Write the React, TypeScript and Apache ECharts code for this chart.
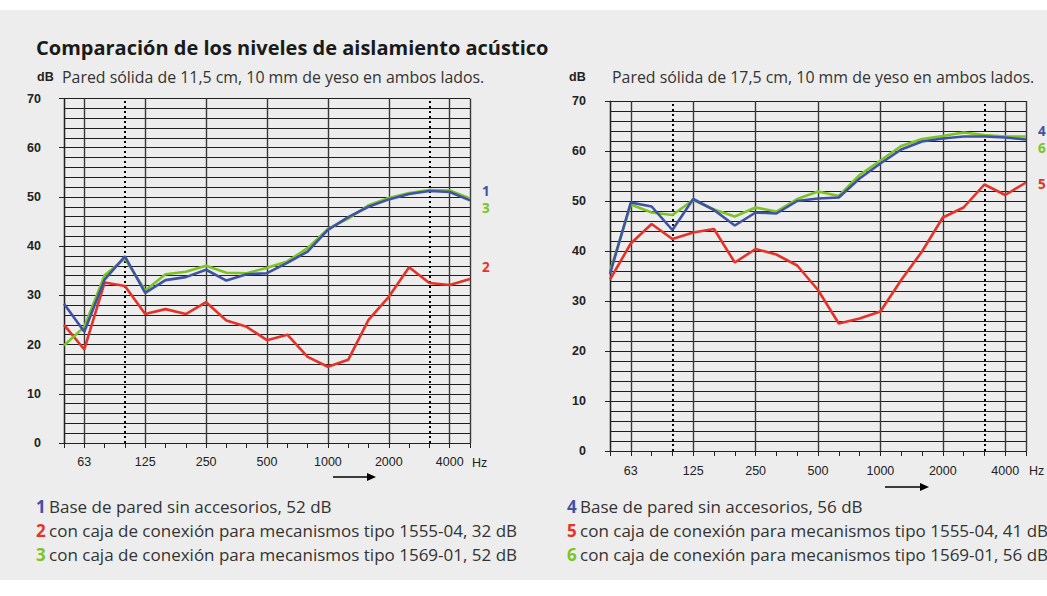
import React, { useEffect, useRef } from "react";
import * as echarts from "echarts";

const FREQS = ["50","63","80","100","125","160","200","250","315","400","500","630","800","1000","1250","1600","2000","2500","3150","4000","5000"];
const OCTAVES = ["63","125","250","500","1000","2000","4000"];
const SPLIT_AT = ["50","63","125","250","500","1000","2000","4000","5000"];
const DOTTED_AT = ["100","3150"];

// Left chart: 11,5 cm wall
const left1 = [28.3,22.6,33.2,37.9,30.5,33.1,33.7,35.2,33.0,34.3,34.5,36.6,38.9,43.3,45.9,48.0,49.5,50.6,51.2,51.0,49.3];
const left2 = [24.0,19.0,32.6,31.9,26.2,27.2,26.2,28.6,24.9,23.6,20.9,22.0,17.5,15.5,16.9,25.0,29.7,35.7,32.5,32.1,33.3];
const left3 = [19.8,23.6,34.1,37.5,31.0,34.3,34.8,36.0,34.6,34.5,35.6,36.9,39.6,43.5,45.6,48.3,49.8,50.8,51.4,51.3,49.7];

// Right chart: 17,5 cm wall
const right4 = [35.4,49.7,48.9,44.2,50.4,48.2,45.1,47.7,47.5,50.0,50.5,50.7,54.5,57.5,60.3,61.9,62.5,62.9,62.9,62.7,62.3];
const right5 = [34.3,41.5,45.4,42.4,43.7,44.4,37.7,40.4,39.3,37.1,32.2,25.5,26.5,27.9,34.2,39.9,46.7,48.7,53.3,51.2,53.7];
const right6 = [35.9,49.3,47.7,47.2,50.2,48.3,46.9,48.7,47.9,50.4,51.9,51.0,55.2,58.1,61.0,62.4,63.0,63.7,63.2,62.9,62.9];

const TITLE = "Comparación de los niveles de aislamiento acústico";
const SUB_LEFT = "Pared sólida de 11,5 cm, 10 mm de yeso en ambos lados.";
const SUB_RIGHT = "Pared sólida de 17,5 cm, 10 mm de yeso en ambos lados.";
const LEG_LEFT = [
  ["1", "Base de pared sin accesorios, 52 dB"],
  ["2", "con caja de conexión para mecanismos tipo 1555-04, 32 dB"],
  ["3", "con caja de conexión para mecanismos tipo 1569-01, 52 dB"],
];
const LEG_RIGHT = [
  ["4", "Base de pared sin accesorios, 56 dB"],
  ["5", "con caja de conexión para mecanismos tipo 1555-04, 41 dB"],
  ["6", "con caja de conexión para mecanismos tipo 1569-01, 56 dB"],
];

const BLUE = "#3f52a6";
const RED = "#e5332a";
const GREEN = "#7cc424";
const SANS = "'Open Sans', 'Noto Sans', sans-serif";
const NUMF = "'Liberation Sans', Arial, sans-serif";

export default function App() {
  const ref = useRef<HTMLDivElement>(null);
  useEffect(() => {
    if (!ref.current) return;
    const chart = echarts.init(ref.current, null, { renderer: "svg" });

    const xAxisFor = (gi: number, margin: number) => ({
      type: "category",
      gridIndex: gi,
      data: FREQS,
      boundaryGap: false,
      axisLine: { show: true, lineStyle: { color: "#222", width: 1.2 } },
      axisTick: { show: true, interval: 0, length: 5, inside: false, lineStyle: { color: "#222", width: 1 } },
      axisLabel: {
        interval: (i: number, v: string) => OCTAVES.includes(v),
        margin,
        color: "#222",
        fontFamily: NUMF,
        fontSize: 12.5,
      },
      splitLine: {
        show: true,
        interval: (i: number, v: string) => SPLIT_AT.includes(v),
        lineStyle: { color: "#3a3a3a", width: 1.4 },
      },
    });
    const yAxisFor = (gi: number, margin: number) => ({
      type: "value",
      gridIndex: gi,
      min: 0,
      max: 70,
      interval: 10,
      axisLine: { show: true, lineStyle: { color: "#222", width: 1.2 } },
      axisTick: { show: true, length: 5, inside: false, lineStyle: { color: "#222" } },
      axisLabel: { margin, color: "#222", fontWeight: "bold", fontFamily: NUMF, fontSize: 12.5 },
      splitLine: { show: true, lineStyle: { color: "#1e1e1e", width: 1 } },
      minorTick: { show: false, splitNumber: 5 },
      minorSplitLine: { show: true, lineStyle: { color: "#1e1e1e", width: 1 } },
    });

    const lineSeries = (name: string, data: number[], color: string, gi: number, off: number[], markDotted = false) => ({
      type: "line",
      name,
      xAxisIndex: gi,
      yAxisIndex: gi,
      data,
      symbol: "none",
      lineStyle: { color, width: 2.6 },
      itemStyle: { color },
      z: 5,
      endLabel: {
        show: true,
        formatter: name,
        color,
        fontFamily: SANS,
        fontWeight: "bold",
        fontSize: 13.5,
        lineHeight: 14,
        offset: off,
      },
      markLine: markDotted
        ? {
            silent: true,
            symbol: "none",
            label: { show: false },
            lineStyle: { color: "#000", type: [2, 3], width: 2 },
            data: DOTTED_AT.map((f) => ({ xAxis: f })),
            z: 3,
          }
        : undefined,
    });

    const legendText = (x: number, y: number, num: string, txt: string, color: string) => ({
      type: "text",
      x,
      y,
      style: {
        text: `{n|${num}} {t|${txt}}`,
        rich: {
          n: { fill: color, fontWeight: "bold", fontSize: 17, fontFamily: SANS },
          t: { fill: "#333", fontSize: 17, fontFamily: SANS },
        },
        verticalAlign: "middle",
      },
    });

    const arrow = (x1: number, x2: number, y: number) => [
      { type: "line", shape: { x1, y1: y, x2: x2 - 8, y2: y }, style: { stroke: "#000", lineWidth: 1.3 } },
      { type: "polygon", shape: { points: [[x2 - 9, y - 4], [x2, y], [x2 - 9, y + 4]] }, style: { fill: "#000" } },
    ];

    chart.setOption({
      animation: false,
      grid: [
        { left: 64, top: 98.5, width: 406, height: 344.5 },
        { left: 610, top: 101, width: 416, height: 350 },
      ],
      xAxis: [xAxisFor(0, 12), xAxisFor(1, 13)],
      yAxis: [yAxisFor(0, 23), yAxisFor(1, 24)],
      series: [
        lineSeries("2", left2, RED, 0, [4, -12], true),
        lineSeries("3", left3, GREEN, 0, [4, 10]),
        lineSeries("1", left1, BLUE, 0, [4, -9]),
        lineSeries("5", right5, RED, 1, [4, 1], true),
        lineSeries("6", right6, GREEN, 1, [4, 11]),
        lineSeries("4", right4, BLUE, 1, [4, -9]),
      ],
      graphic: [
        { type: "text", x: 36, y: 47, style: { text: TITLE, fontFamily: SANS, fontWeight: "bold", fontSize: 20, fill: "#1a1a1a", verticalAlign: "middle" } },
        { type: "text", x: 37, y: 77, style: { text: "dB", fontFamily: NUMF, fontWeight: "bold", fontSize: 12.5, fill: "#222", verticalAlign: "middle" } },
        { type: "text", x: 62, y: 77, style: { text: SUB_LEFT, fontFamily: SANS, fontSize: 15.9, fill: "#333", verticalAlign: "middle" } },
        { type: "text", x: 569, y: 77, style: { text: "dB", fontFamily: NUMF, fontWeight: "bold", fontSize: 12.5, fill: "#222", verticalAlign: "middle" } },
        { type: "text", x: 612, y: 77, style: { text: SUB_RIGHT, fontFamily: SANS, fontSize: 15.9, fill: "#333", verticalAlign: "middle" } },
        { type: "text", x: 472, y: 463, style: { text: "Hz", fontFamily: NUMF, fontSize: 12.5, fill: "#222", verticalAlign: "middle" } },
        { type: "text", x: 1029, y: 471, style: { text: "Hz", fontFamily: NUMF, fontSize: 12.5, fill: "#222", verticalAlign: "middle" } },
        ...arrow(333, 376, 477),
        ...arrow(885, 929, 487),
        ...LEG_LEFT.map((l, i) => legendText(36, 506 + i * 24, l[0], l[1], [BLUE, RED, GREEN][i])),
        ...LEG_RIGHT.map((l, i) => legendText(567, 506 + i * 24, l[0], l[1], [BLUE, RED, GREEN][i])),
      ],
    });
    return () => chart.dispose();
  }, []);

  return (
    <div style={{ position: "absolute", left: 0, top: 0, width: 1047, height: 596, background: "#ffffff", overflow: "hidden" }}>
      <div style={{ position: "absolute", left: 0, top: 10, width: 1047, height: 570, background: "#ecedec" }} />
      <div ref={ref} style={{ position: "absolute", left: 0, top: 0, width: 1047, height: 596 }} />
    </div>
  );
}
